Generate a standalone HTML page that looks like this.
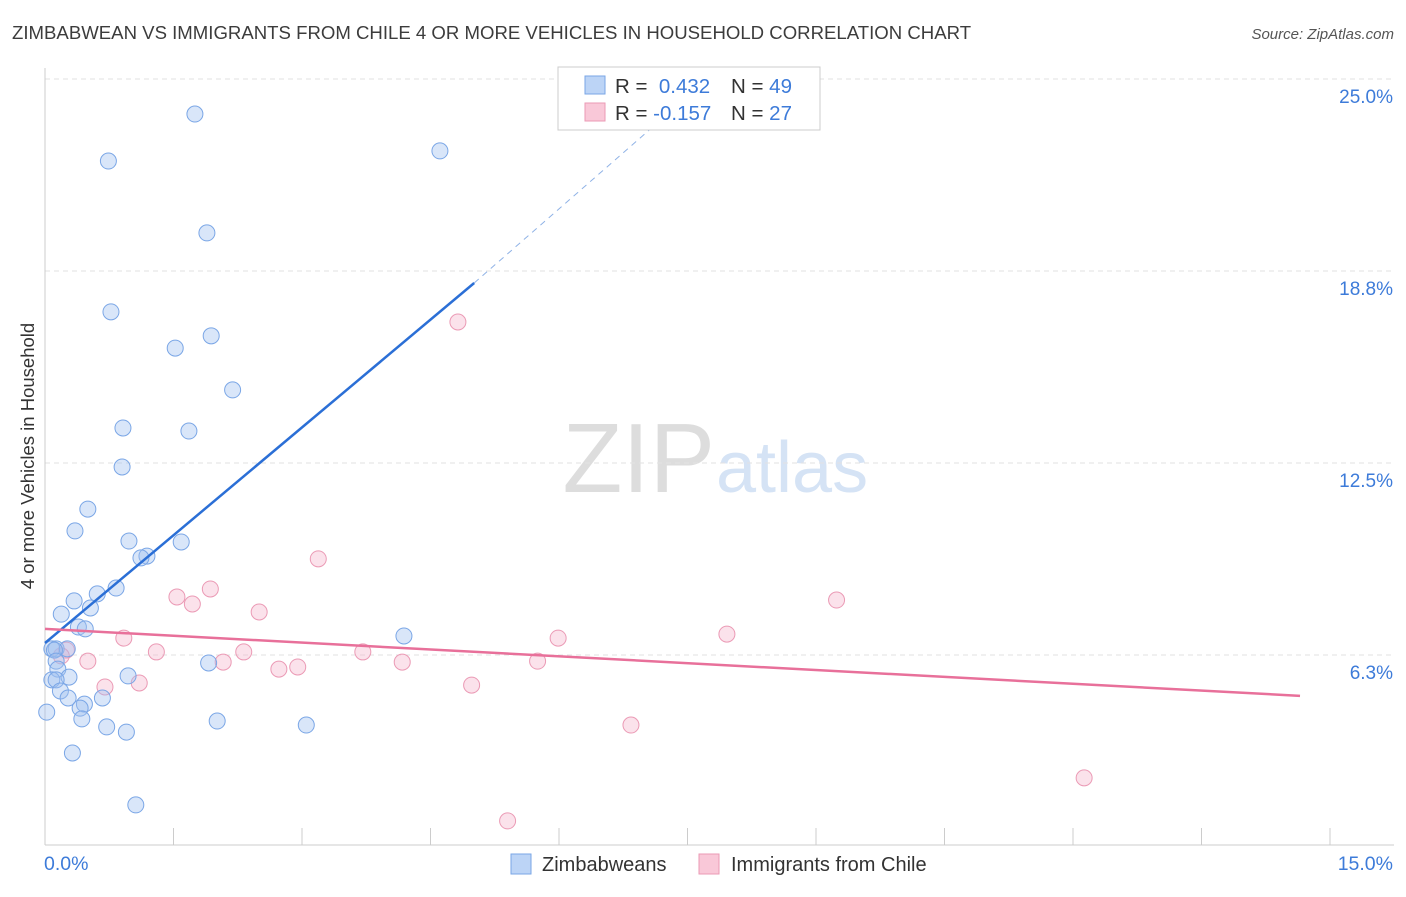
<!DOCTYPE html>
<html><head><meta charset="utf-8"><style>
body{margin:0;background:#fff;font-family:"Liberation Sans",sans-serif;}
svg text{font-family:"Liberation Sans",sans-serif;}
</style></head><body>
<svg width="1406" height="892" xmlns="http://www.w3.org/2000/svg">
<text x="12" y="39" font-size="18.6" fill="#3c3c3c">ZIMBABWEAN VS IMMIGRANTS FROM CHILE 4 OR MORE VEHICLES IN HOUSEHOLD CORRELATION CHART</text>
<text x="1394" y="39" font-size="15" fill="#555" font-style="italic" text-anchor="end">Source: ZipAtlas.com</text>
<text x="715" y="492" font-size="98" fill="#ddd" text-anchor="end" font-family="Liberation Serif">ZIP</text>
<text x="716" y="492" font-size="72" fill="#d5e3f5">atlas</text>
<g id="grid"></g>
<g id="axes"></g>
<text transform="translate(34,456) rotate(-90)" font-size="18.5" fill="#333" text-anchor="middle">4 or more Vehicles in Household</text>
<g id="marks"></g>
<g>
<rect x="558" y="67" width="262" height="63" fill="#fff" stroke="#ccc"/>
<rect x="585" y="76" width="20" height="18" fill="#bcd4f6" stroke="#7aa6e6"/>
<rect x="585" y="103" width="20" height="18" fill="#f9c8d8" stroke="#eb9ab5"/>
<text x="615" y="93" font-size="20.5" fill="#333">R = <tspan fill="#3d7bd9">&#160;0.432</tspan><tspan x="731">N = </tspan><tspan fill="#3d7bd9">49</tspan></text>
<text x="615" y="120" font-size="20.5" fill="#333">R = <tspan fill="#3d7bd9">-0.157</tspan><tspan x="731">N = </tspan><tspan fill="#3d7bd9">27</tspan></text>
</g>
<g>
<rect x="511" y="854" width="20" height="20" fill="#bcd4f6" stroke="#7aa6e6"/>
<text x="542" y="871" font-size="20" fill="#333">Zimbabweans</text>
<rect x="699" y="854" width="20" height="20" fill="#f9c8d8" stroke="#eb9ab5"/>
<text x="731" y="871" font-size="20" fill="#333">Immigrants from Chile</text>
</g>
</svg>
<script>
const blueX=[1.75,0.74,4.61,1.89,0.77,1.94,1.52,2.19,0.91,1.68,0.90,0.50,0.35,0.98,1.59,1.19,1.12,0.83,0.61,0.34,0.19,0.53,0.39,0.47,4.19,0.08,0.13,0.26,0.11,0.13,0.15,1.91,0.97,0.28,0.08,0.13,0.18,0.27,0.67,0.46,0.41,0.02,0.43,2.01,3.05,0.72,0.95,0.32,1.06];
const blueY=[23.86,22.33,22.66,19.99,17.42,16.64,16.24,14.88,13.64,13.54,12.37,11.00,10.29,9.96,9.93,9.47,9.41,8.43,8.24,8.01,7.58,7.78,7.16,7.10,6.87,6.45,6.45,6.45,6.41,6.05,5.79,5.99,5.57,5.53,5.44,5.44,5.08,4.85,4.85,4.65,4.52,4.39,4.17,4.10,3.97,3.91,3.74,3.06,1.37];
const pinkX=[4.82,3.19,1.93,1.54,1.72,2.50,9.24,0.92,5.99,7.96,1.30,2.32,3.71,0.25,0.19,0.50,2.08,4.17,5.75,2.73,2.95,1.10,0.70,4.98,6.84,12.13,5.40];
const pinkY=[17.09,9.38,8.40,8.14,7.91,7.65,8.04,6.80,6.80,6.93,6.35,6.35,6.35,6.41,6.22,6.05,6.02,6.02,6.05,5.79,5.86,5.34,5.21,5.27,3.97,2.25,0.85];
const blueTrend=[[0,6.64],[5.01,18.36],[7.12,23.5]];
const pinkTrend=[[0,7.10],[14.65,4.92]];
const yTicks=[25.0,18.8,12.5,6.3];
const yTickVals=[25,18.75,12.5,6.25];
const xTickCount=10;
const NS="http://www.w3.org/2000/svg";
const xs=v=>45+v/15*1285;
const ys=v=>655-(v-6.25)*30.72;
function mk(t,a,p){const e=document.createElementNS(NS,t);for(const k in a)e.setAttribute(k,a[k]);p.appendChild(e);return e;}
const grid=document.getElementById('grid'),axes=document.getElementById('axes'),marks=document.getElementById('marks');
yTickVals.forEach((v,i)=>{
 const l=mk('line',{x1:45,x2:1394,y1:ys(v),y2:ys(v),stroke:'#e2e2e2','stroke-dasharray':'5,4'},grid);
 
 
 const t=mk('text',{x:1393,y:ys(v)+24,'font-size':19,fill:'#3d7bd9','text-anchor':'end'},axes);
 t.textContent=yTicks[i].toFixed(1)+'%';
 
 
});
mk('line',{x1:45,x2:45,y1:68,y2:845,stroke:'#ccc'},axes);
mk('line',{x1:45,x2:1394,y1:845,y2:845,stroke:'#ccc'},axes);
for(let i=0;i<=xTickCount;i++){const x=xs(i*15/xTickCount);const l=mk('line',{x1:x,x2:x,y1:828,y2:845,stroke:'#ccc'},axes);
 
 }
let t0=mk('text',{x:44,y:870,'font-size':19.5,fill:'#3d7bd9'},axes);t0.textContent='0.0%';


let t1=mk('text',{x:1393,y:870,'font-size':19.5,fill:'#3d7bd9','text-anchor':'end'},axes);t1.textContent='15.0%';


pinkX.forEach((x,i)=>{const c=mk('circle',{cx:xs(x),cy:ys(pinkY[i]),r:8,fill:'rgba(246,182,204,0.4)',stroke:'#eb9ab5','stroke-width':1},marks);
 
 });
blueX.forEach((x,i)=>{const c=mk('circle',{cx:xs(x),cy:ys(blueY[i]),r:8,fill:'rgba(160,192,240,0.4)',stroke:'#7aa6e6','stroke-width':1},marks);
 
 });
let bl=mk('line',{x1:xs(blueTrend[0][0]),y1:ys(blueTrend[0][1]),x2:xs(blueTrend[1][0]),y2:ys(blueTrend[1][1]),stroke:'#2b6fd6','stroke-width':2.5},marks);


let bd=mk('line',{x1:xs(blueTrend[1][0]),y1:ys(blueTrend[1][1]),x2:xs(blueTrend[2][0]),y2:ys(blueTrend[2][1]),stroke:'#8fb2e6','stroke-width':1,'stroke-dasharray':'6,5'},marks);


let pl=mk('line',{x1:xs(pinkTrend[0][0]),y1:ys(pinkTrend[0][1]),x2:xs(pinkTrend[1][0]),y2:ys(pinkTrend[1][1]),stroke:'#e8709a','stroke-width':2.5},marks);


</script>
</body></html>
